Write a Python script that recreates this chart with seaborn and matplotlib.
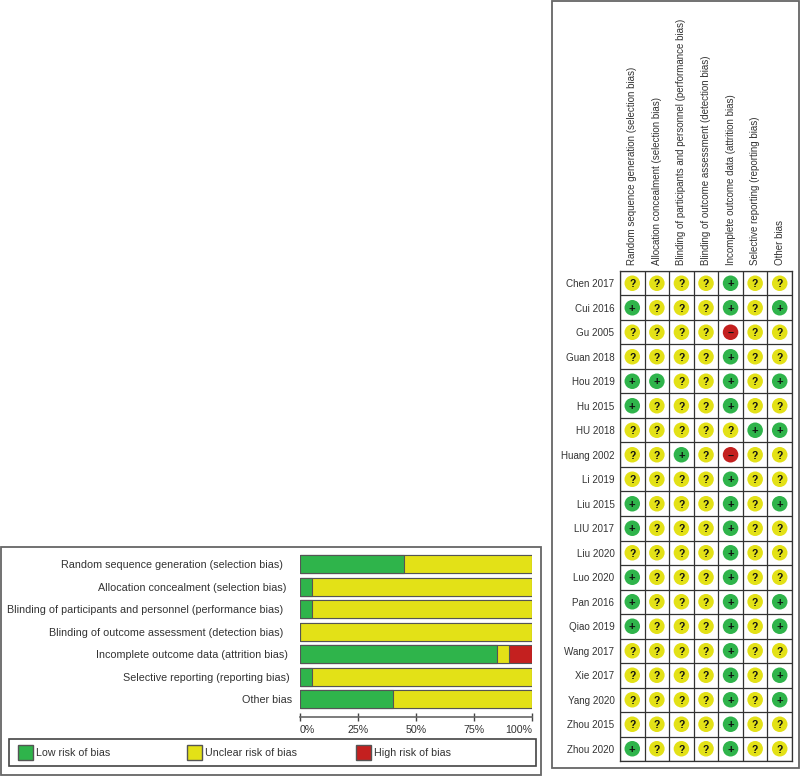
import numpy as np
import pandas as pd
import matplotlib
matplotlib.use("Agg")
import matplotlib.pyplot as plt
from matplotlib.patches import Rectangle
import seaborn as sns

# DATA
domains = [
    "Random sequence generation (selection bias)",
    "Allocation concealment (selection bias)",
    "Blinding of participants and personnel (performance bias)",
    "Blinding of outcome assessment (detection bias)",
    "Incomplete outcome data (attrition bias)",
    "Selective reporting (reporting bias)",
    "Other bias",
]
low_risk = [45, 5, 5, 0, 85, 5, 40]
unclear_risk = [55, 95, 95, 100, 5, 95, 60]
high_risk = [0, 0, 0, 0, 10, 0, 0]
percent_ticks = [0, 25, 50, 75, 100]
percent_labels = ["0%", "25%", "50%", "75%", "100%"]

studies = [
    "Chen 2017", "Cui 2016", "Gu 2005", "Guan 2018", "Hou 2019",
    "Hu 2015", "HU 2018", "Huang 2002", "Li 2019", "Liu 2015",
    "LIU 2017", "Liu 2020", "Luo 2020", "Pan 2016", "Qiao 2019",
    "Wang 2017", "Xie 2017", "Yang 2020", "Zhou 2015", "Zhou 2020",
]
judgements = [
    "????+??", "+???+?+", "????-??", "????+??", "++??+?+",
    "+???+??", "?????++", "??+?-??", "????+??", "+???+?+",
    "+???+??", "????+??", "+???+??", "+???+?+", "+???+?+",
    "????+??", "????+?+", "????+?+", "????+??", "+???+??",
]

GREEN = "#2fb44b"
YELLOW = "#e3e117"
RED = "#c4201f"
TEXT = "#333333"
LINE = "#555555"
W, H = 800, 776

sns.set_theme(style="white")
plt.rcParams["font.family"] = ["Liberation Sans", "DejaVu Sans"]
plt.rcParams["text.color"] = TEXT


def px_axes(fig, left, top, right, bottom):
    return fig.add_axes([left / W, 1 - bottom / H, (right - left) / W, (bottom - top) / H])


fig = plt.figure(figsize=(W / 100, H / 100), dpi=100, facecolor="white")

# FRAMES AND LEGEND (pixel coordinates)
bg = fig.add_axes([0, 0, 1, 1])
bg.set_xlim(0, W)
bg.set_ylim(H, 0)
bg.axis("off")
bg.add_patch(Rectangle((1, 547), 540, 228, fill=False, ec="#666666", lw=1.3))
bg.add_patch(Rectangle((552, 1), 247, 767, fill=False, ec="#666666", lw=1.3))
bg.add_patch(Rectangle((9, 739), 527, 27, fill=False, ec="#444444", lw=1.2))
for x0, col, lab in [(18, GREEN, "Low risk of bias"),
                     (187, YELLOW, "Unclear risk of bias"),
                     (356, RED, "High risk of bias")]:
    bg.add_patch(Rectangle((x0, 745), 15, 15, fc=col, ec=LINE, lw=1))
    bg.text(x0 + 18, 753, lab, fontsize=7.7, va="center", ha="left")

# SUMMARY BARS
ax = px_axes(fig, 300, 553, 532, 717)
ax.patch.set_alpha(0)
low = np.array(low_risk)
unclear = np.array(unclear_risk)
high = np.array(high_risk)
bar_kw = dict(y=domains, orient="h", width=0.8, saturation=1, ax=ax,
              edgecolor=LINE, linewidth=0.8)
sns.barplot(x=low + unclear + high, color=RED, **bar_kw)
sns.barplot(x=low + unclear, color=YELLOW, **bar_kw)
sns.barplot(x=low, color=GREEN, **bar_kw)
ax.set_xlim(0, 100)
ax.set_ylim(6.8, -0.5)
ax.set_xlabel("")
ax.set_ylabel("")
sns.despine(ax=ax, left=True, right=True, top=True)
ax.spines["bottom"].set_color("#666666")
ax.spines["bottom"].set_linewidth(1.2)
ax.set_xticks(percent_ticks, percent_labels, fontsize=7.7, color=TEXT)
ax.tick_params(axis="x", direction="inout", length=6, width=1, color="#444444", pad=3, bottom=True)
for lab, ha in zip(ax.get_xticklabels(), ["left", "center", "center", "center", "right"]):
    lab.set_ha(ha)
ax.tick_params(axis="y", length=0, labelsize=7.75, labelcolor=TEXT)
# labels are not quite flush in the original
for tick, pad in zip(ax.yaxis.get_major_ticks(), [12.2, 10, 12.2, 12.2, 8.6, 7.2, 5.8]):
    tick.set_pad(pad)

# STUDY MATRIX
rows = []
for study, marks in zip(studies, judgements):
    for domain, mark in zip(domains, marks):
        rows.append({"study": study, "domain": domain, "mark": mark})
matrix = pd.DataFrame(rows)
matrix["col"] = matrix["domain"].map({d: i for i, d in enumerate(domains)})
matrix["row"] = matrix["study"].map({s: i for i, s in enumerate(studies)})

mx = px_axes(fig, 620, 271, 792, 761)
mx.patch.set_alpha(0)
sns.scatterplot(data=matrix, x="col", y="row", hue="mark",
                palette={"+": GREEN, "?": YELLOW, "-": RED},
                s=125, linewidth=0, legend=False, ax=mx, zorder=3)
for _, r in matrix.iterrows():
    sign = r["mark"].replace("-", "\u2212")
    mx.text(r["col"], r["row"], sign, ha="center", va="center_baseline",
            fontsize=8 if sign == "+" else 7.5,
            fontweight="bold", color="#111111", zorder=4)
mx.set_xlim(-0.5, 6.5)
mx.set_ylim(19.5, -0.5)
mx.set_xlabel("")
mx.set_ylabel("")
mx.set_xticks(range(len(domains)), domains, rotation=90, fontsize=7.05, color=TEXT)
mx.set_yticks(range(len(studies)), studies, fontsize=7.1, color=TEXT)
mx.set_xticks(np.arange(-0.5, 7), minor=True)
mx.set_yticks(np.arange(-0.5, 20), minor=True)
mx.grid(which="minor", color="#333333", lw=0.9)
mx.grid(which="major", visible=False)
mx.tick_params(which="both", length=0)
mx.tick_params(axis="x", top=True, labeltop=True, bottom=False, labelbottom=False, pad=4)
mx.tick_params(axis="y", pad=4)
for spine in mx.spines.values():
    spine.set_color("#333333")
    spine.set_linewidth(0.9)

fig.savefig("out.png", dpi=100)
